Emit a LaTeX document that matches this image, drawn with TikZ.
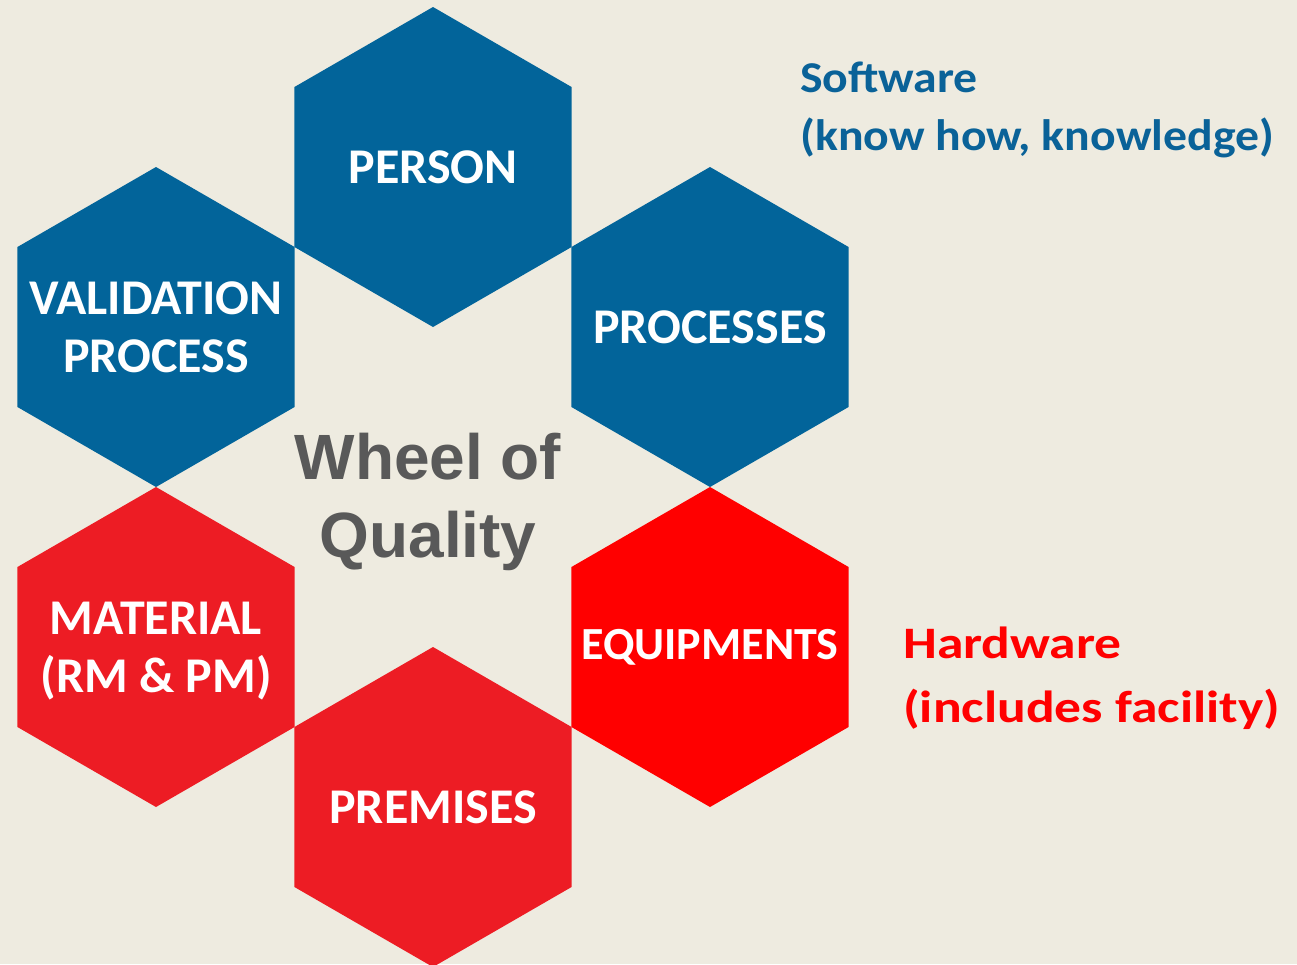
\documentclass[tikz,border=0pt]{standalone}
\usepackage{fontspec}
\setmainfont{Carlito}
\newfontfamily\arialfont{Liberation Sans}
\usetikzlibrary{shapes.geometric}
\definecolor{bgcol}{HTML}{EEEBE0}
\definecolor{hexblue}{HTML}{02649A}
\definecolor{hexred}{HTML}{ED1C24}
\definecolor{hexbright}{HTML}{FF0000}
\definecolor{swblue}{HTML}{0A6298}
\definecolor{hwred}{HTML}{FF0000}
\definecolor{wheelgray}{HTML}{595959}
\tikzset{
  hexa/.style={regular polygon, regular polygon sides=6, regular polygon rotate=30,
    minimum size=320pt, inner sep=0pt, outer sep=0pt},
  hexlabel/.style={inner sep=0pt, text=white, align=center,
    font=\bfseries\fontsize{50}{58}\selectfont},
  sidelabel/.style={inner sep=0pt, align=left, anchor=north west, transform shape},
  wheeltext/.style={inner sep=0pt, align=center, text=wheelgray,
    font=\arialfont\bfseries\fontsize{64}{78}\selectfont}
}
\begin{document}
\begin{tikzpicture}[x=1pt,y=-1pt]
\fill[bgcol] (0,0) rectangle (1297,964);
\useasboundingbox (0,0) rectangle (1297,964);
% hexagons
\node[hexa, fill=hexblue] (person) at (433,167) {};
\node[hexa, fill=hexblue] (processes) at (710,327) {};
\node[hexa, fill=hexblue] (validation) at (156,327) {};
\node[hexa, fill=hexred] (material) at (156,647) {};
\node[hexa, fill=hexbright] (equipments) at (710,647) {};
\node[hexa, fill=hexred] (premises) at (433,807) {};
% hexagon labels
\node[hexlabel] (personlbl) at (person) {PERSON};
\node[hexlabel] (processeslbl) at (processes) {PROCESSES};
\node[hexlabel] (validationlbl) at (validation) {VALIDATION\\PROCESS};
\node[hexlabel] (materiallbl) at ([yshift=-4pt]material.center) {MATERIAL\\(RM \& PM)};
\node[hexlabel, font=\bfseries\fontsize{46}{54}\selectfont] (equipmentslbl) at (equipments) {EQUIPMENTS};
\node[hexlabel] (premiseslbl) at (premises) {PREMISES};
% centre text
\node[wheeltext] (wheel) at (428,502) {Wheel of\\Quality};
% side texts
\node[sidelabel, text=swblue, xscale=1.085,
  font=\bfseries\fontsize{44}{58}\selectfont] (software) at (800,62) {Software\\(know how, knowledge)};
\node[sidelabel, text=hwred, xscale=1.19,
  font=\bfseries\fontsize{45}{64}\selectfont] (hardware) at (903,627) {Hardware\\(includes facility)};
\end{tikzpicture}
\end{document}
